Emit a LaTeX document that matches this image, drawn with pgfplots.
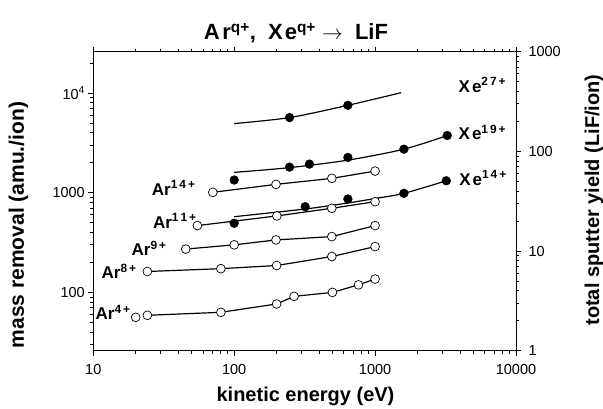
\documentclass[border=0pt]{standalone}
\usepackage{fontspec}
\setmainfont{Liberation Sans}
\usepackage{pgfplots}
\pgfplotsset{compat=1.18}

\pgfplotsset{
  openc/.style={mark=*, mark size=4.4pt, mark options={fill=white, draw=black, line width=0.7pt, solid}},
  fillc/.style={mark=*, mark size=4.4pt, mark options={fill=black, draw=black, solid}},
  fitline/.style={black, line width=1.2pt, smooth, tension=0.5},
  arline/.style={black, line width=1.2pt},
}
\newcommand{\lbl}{\fontsize{17}{17}\selectfont\bfseries}

\begin{document}
\begin{tikzpicture}
\useasboundingbox (-93.3pt,-58.3pt) rectangle (509.7pt,350.7pt);
\begin{axis}[
  scale only axis, width=422.7pt, height=299pt,
  xmode=log, ymode=log,
  xmin=10, xmax=10000, ymin=26, ymax=26000,
  axis line style={line width=0.8pt},
  tick align=outside, xtick pos=both, xticklabel pos=left, ytick pos=left,
  major tick length=5pt, minor tick length=3pt,
  tick style={black, line width=0.7pt},
  xtick={10,100,1000,10000}, xticklabels={10,100,1000,10000},
  minor xtick={20,30,40,50,60,70,80,90,200,300,400,500,600,700,800,900,2000,3000,4000,5000,6000,7000,8000,9000},
  ytick={100,1000,10000}, yticklabels={100,1000,10\textsuperscript{4}},
  minor ytick={30,40,50,60,70,80,90,200,300,400,500,600,700,800,900,2000,3000,4000,5000,6000,7000,8000,9000,20000},
  ticklabel style={font=\fontsize{14.5}{14.5}\selectfont},
  xticklabel style={yshift=-5pt},
]
% Xe fit lines
\addplot[fitline] coordinates {(100,4940) (247,5675) (641,7534) (1531,10090)};
\addplot[fitline] coordinates {(100,1600) (247,1786) (641,2123) (1601,2735) (3250,3750)};
\addplot[fitline] coordinates {(100,575) (320,687) (640,789) (1000,875) (1600,986) (3200,1318)};
% Ar data (open circles)
\addplot[arline, openc] coordinates {(70.5,1009) (198,1213) (493,1393) (1000,1648)};
\addplot[arline, openc] coordinates {(54.8,468) (200.8,585) (493,698) (1000,813)};
\addplot[arline, openc] coordinates {(45.3,272) (100,300) (198,336) (493,363) (1000,468)};
\addplot[arline, openc] coordinates {(24.2,162) (80.4,173) (200,186) (493,229) (1000,288)};
\addplot[arline, openc] coordinates {(24.2,58.9) (80.4,63.1) (200,76.5) (266,91.2) (498,100) (762,119) (1000,136)};
\addplot[only marks, openc] coordinates {(20,56.2)};
% Xe data (filled circles)
\addplot[only marks, fillc] coordinates {(247,5675) (641,7534)};
\addplot[only marks, fillc] coordinates {(100,1340) (247,1807) (342,1937) (641,2259) (1601,2735) (3251,3750)};
\addplot[only marks, fillc] coordinates {(100,494) (319,724) (641,865) (1601,986) (3200,1318)};
% labels
\node[anchor=base east, font=\lbl] at (axis cs:56.3,948) {Ar\textsuperscript{1\,4\,+}};
\node[anchor=base east, font=\lbl] at (axis cs:57.3,440) {Ar\textsuperscript{1\,1\,+}};
\node[anchor=base east, font=\lbl] at (axis cs:35.1,234) {Ar\textsuperscript{9\,+}};
\node[anchor=base east, font=\lbl] at (axis cs:21.5,137) {Ar\textsuperscript{8\,+}};
\node[anchor=base east, font=\lbl] at (axis cs:19.5,53.3) {Ar\textsuperscript{4\,+}};
\node[anchor=base west, font=\lbl, inner sep=0pt] at (axis cs:3908,10233) {X\hspace{2pt}e\textsuperscript{2\,7\,+}};
\node[anchor=base west, font=\lbl, inner sep=0pt] at (axis cs:3908,3420) {X\hspace{2pt}e\textsuperscript{1\,9\,+}};
\node[anchor=base west, font=\lbl, inner sep=0pt] at (axis cs:3950,1194) {X\hspace{2pt}e\textsuperscript{1\,4\,+}};
\end{axis}
\begin{axis}[
  scale only axis, width=422.7pt, height=299pt,
  ymode=log, ymin=1, ymax=1000, xmin=0, xmax=1,
  axis x line=none, axis y line*=right,
  axis line style={line width=0.8pt, -},
  tick align=outside, ytick pos=right,
  major tick length=5pt, minor tick length=3pt,
  tick style={black, line width=0.7pt},
  ytick={1,10,100,1000}, yticklabels={1,10,100,1000},
  minor ytick={2,3,4,5,6,7,8,9,20,30,40,50,60,70,80,90,200,300,400,500,600,700,800,900},
  ticklabel style={font=\fontsize{14.5}{14.5}\selectfont},
  yticklabel style={xshift=4pt},
]
\end{axis}
\node[anchor=base, font=\fontsize{22}{22}\selectfont\bfseries] at (202.7pt,310.7pt)
  {A\hspace{2.5pt}r\textsuperscript{q+}, \ X\hspace{2pt}e\textsuperscript{q+} $\rightarrow$ \ LiF};
\node[anchor=base, font=\fontsize{20}{20}\selectfont\bfseries] at (212.2pt,-51.3pt) {kinetic energy (eV)};
\node[rotate=90, font=\fontsize{21}{21}\selectfont\bfseries] at (-74.8pt,125.7pt) {mass removal (amu./ion)};
\node[rotate=90, font=\fontsize{20}{20}\selectfont\bfseries] at (500.7pt,150.7pt) {total sputter yield (LiF/ion)};
\end{tikzpicture}
\end{document}
